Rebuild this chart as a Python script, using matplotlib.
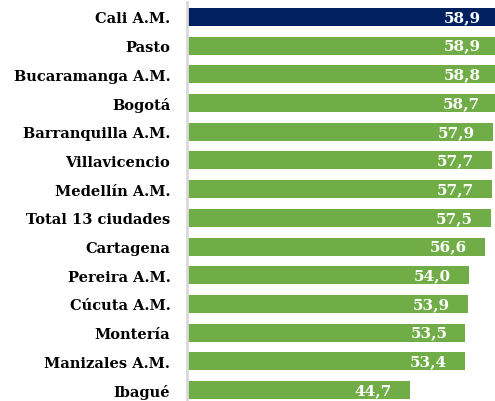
import matplotlib
matplotlib.use("Agg")

import matplotlib.pyplot as plt

# data
ciudades = ["Cali A.M.", "Pasto", "Bucaramanga A.M.", "Bogotá", "Barranquilla A.M.",
            "Villavicencio", "Medellín A.M.", "Total 13 ciudades", "Cartagena",
            "Pereira A.M.", "Cúcuta A.M.", "Montería", "Manizales A.M.", "Ibagué"]
valores = [58.9, 58.9, 58.8, 58.7, 57.9, 57.7, 57.7, 57.5, 56.6, 54.0, 53.9, 53.5, 53.4, 44.7]
destacada = "Cali A.M."

azul = "#002060"
verde = "#70AD47"
fuente = "DejaVu Serif"


def main():
    fig = plt.figure(figsize=(4.95, 4.02), dpi=100)
    ax = fig.add_axes([187 / 495, 0.0, 1 - 187 / 495, 399 / 402])

    colores = [azul if c == destacada else verde for c in ciudades]
    pos = list(range(len(ciudades)))
    ax.barh(pos, valores, height=0.63, color=colores, left=0)

    ax.set_xlim(9.3, 58.2)
    ax.set_ylim(13.38, -0.52)

    # value labels inside the bar end
    for y, v in zip(pos, valores):
        ax.annotate(f"{v:.1f}".replace(".", ","), xy=(v, y), xytext=(-13, 0),
                    textcoords="offset points", ha="right", va="center",
                    color="white", fontsize=11, fontweight="bold", family=fuente,
                    annotation_clip=False, clip_on=True)

    ax.set_yticks(pos)
    ax.set_yticklabels(ciudades, fontsize=10.5, fontweight="bold", family=fuente)
    ax.tick_params(axis="y", length=0, pad=12)
    ax.set_xticks([])

    for lado in ["top", "right", "bottom"]:
        ax.spines[lado].set_visible(False)
    ax.spines["left"].set_color("#d9d9d9")
    ax.spines["left"].set_linewidth(2)

    fig.savefig("out.png", dpi=100)


if __name__ == "__main__":
    main()
